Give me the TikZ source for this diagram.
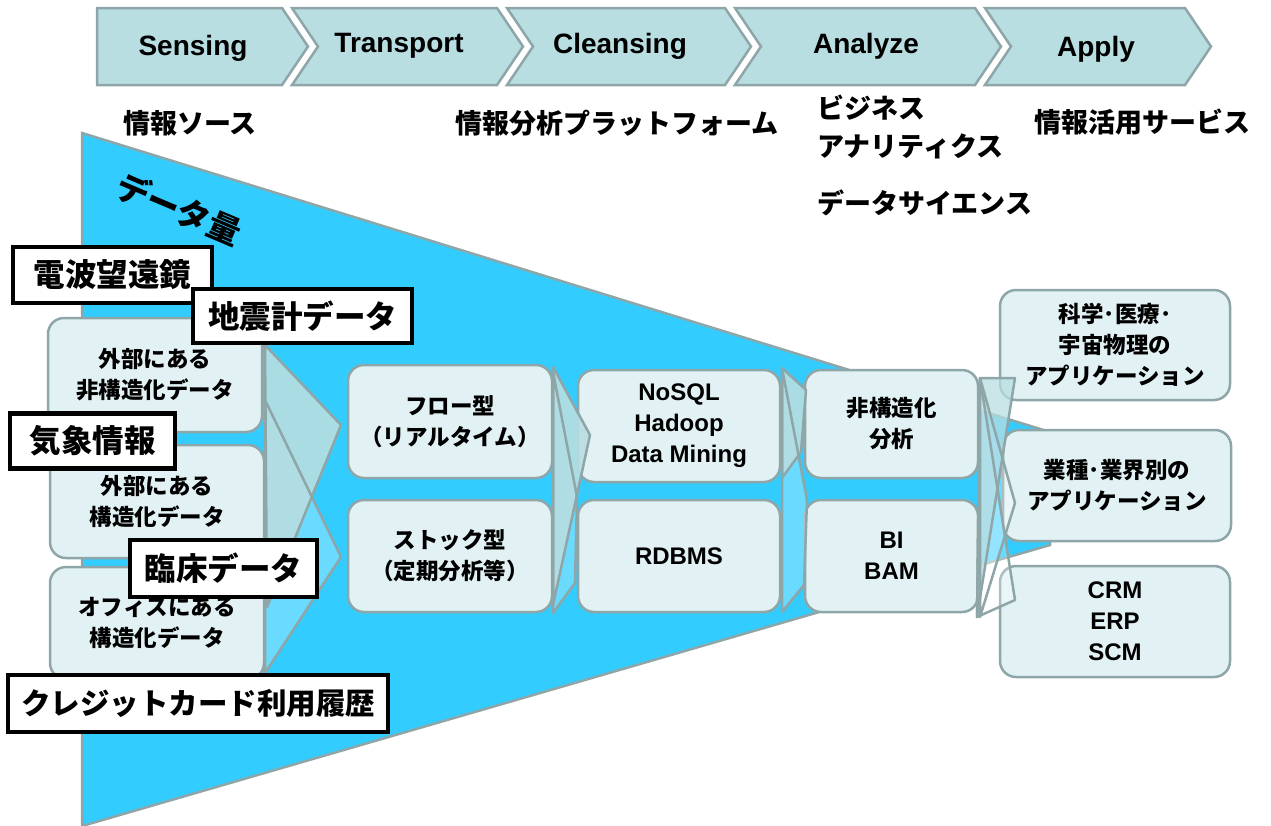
\documentclass[tikz,border=0pt]{standalone}
\usepackage{fontspec}
\setmainfont{Liberation Sans}
\newfontfamily\jp{Noto Sans CJK JP}
\usetikzlibrary{calc}
\definecolor{funnelc}{HTML}{33CCFF}
\definecolor{chevfill}{HTML}{B8DEE2}
\definecolor{boxfill}{HTML}{E2F2F4}
\definecolor{edgegray}{HTML}{8FA6A9}
\tikzset{
 chev/.style={fill=chevfill, draw=edgegray, line width=2.5pt, line join=miter},
 chevtext/.style={font=\bfseries\fontsize{28}{28}\selectfont, inner sep=0pt},
 hdr/.style={font=\jp\bfseries\fontsize{27}{38}\selectfont, anchor=west, inner sep=0pt},
 rbox/.style={fill=boxfill, draw=edgegray, line width=2.5pt, rounded corners=16pt, align=center, inner sep=0pt},
 jtxt/.style={font=\jp\bfseries\fontsize{22.5}{31}\selectfont},
 ltxt/.style={font=\bfseries\fontsize{24}{31}\selectfont},
 lbl/.style={fill=white, draw=black, line width=4.5pt, inner sep=0pt, font=\jp\bfseries\fontsize{31.5}{31.5}\selectfont},
 arrA/.style={fill=chevfill, fill opacity=0.9, draw=edgegray, line width=2.5pt, line join=round},
 arrBfill/.style={fill=white, fill opacity=0.28},
 edge/.style={draw=edgegray, line width=2.5pt, line join=round},
}
\begin{document}
\begin{tikzpicture}[x=1pt,y=-1pt]
\useasboundingbox (0,0) rectangle (1271,825);
% top chevrons
\draw[chev] (97,8) -- (282,8) -- (308,46.5) -- (282,85) -- (97,85) -- cycle;
\draw[chev] (292,8) -- (497,8) -- (523,46.5) -- (497,85) -- (292,85) -- (318,46.5) -- cycle;
\draw[chev] (507,8) -- (725,8) -- (751,46.5) -- (725,85) -- (507,85) -- (533,46.5) -- cycle;
\draw[chev] (735,8) -- (975,8) -- (1001,46.5) -- (975,85) -- (735,85) -- (761,46.5) -- cycle;
\draw[chev] (985,8) -- (1185,8) -- (1211,46.5) -- (1185,85) -- (985,85) -- (1011,46.5) -- cycle;
\node[chevtext] (c1) at (193,48) {Sensing};
\node[chevtext] (c2) at (399,46) {Transport};
\node[chevtext] (c3) at (620,46) {Cleansing};
\node[chevtext] (c4) at (866,46) {Analyze};
\node[chevtext] (c5) at (1096,49) {Apply};
% headers
\node[hdr] (h1) at (123,123) {情報ソース};
\node[hdr] (h2) at (455,123) {情報分析プラットフォーム};
\node[hdr] (h3) at (817,108) {ビジネス};
\node[hdr] (h4) at (817,146) {アナリティクス};
\node[hdr] (h5) at (817,203) {データサイエンス};
\node[hdr] (h6) at (1034,122) {情報活用サービス};
% funnel
\draw[fill=funnelc, draw=edgegray, line width=2.5pt] (82,133) -- (1050,432) -- (1050,545) -- (82,826) -- cycle;
\node[font=\jp\bfseries\fontsize{33}{33}\selectfont, rotate=-23, inner sep=0pt] (vol) at (179,209) {データ量};
% source boxes
\node[rbox, jtxt, minimum width=214pt, minimum height=114pt] (s1) at (155,375) {外部にある\\非構造化データ};
\node[rbox, jtxt, minimum width=214pt, minimum height=113pt] (s2) at (157,501.5) {外部にある\\構造化データ};
\node[rbox, jtxt, minimum width=214pt, minimum height=112pt] (s3) at (157,623) {オフィスにある\\構造化データ};
% column 2
\node[rbox, jtxt, minimum width=204pt, minimum height=113pt] (f1) at (450,421.5) {フロー型\\（リアルタイム）};
\node[rbox, jtxt, minimum width=204pt, minimum height=112pt] (f2) at (450,556) {ストック型\\（定期分析等）};
% column 3
\node[rbox, ltxt, minimum width=202pt, minimum height=112pt] (d1) at (679,426) {NoSQL\\Hadoop\\Data Mining};
\node[rbox, ltxt, minimum width=202pt, minimum height=112pt] (d2) at (679,556) {RDBMS};
% column 4
\node[rbox, jtxt, minimum width=173pt, minimum height=108pt] (a1) at (891.5,424) {非構造化\\分析};
\node[rbox, ltxt, minimum width=173pt, minimum height=112pt] (a2) at (891.5,556) {BI\\BAM};
% column 5
\node[rbox, jtxt, minimum width=230pt, minimum height=110pt] (p1) at (1115,345) {科学･医療･\\宇宙物理の\\アプリケーション};
\node[rbox, jtxt, minimum width=228pt, minimum height=111pt] (p2) at (1117,485.5) {業種･業界別の\\アプリケーション};
\node[rbox, ltxt, minimum width=230pt, minimum height=111pt] (p3) at (1115,621.5) {CRM\\ERP\\SCM};
% transition 1
\fill[arrBfill] (265,400) -- (341,557) -- (265,673) -- cycle;
\draw[arrA] (265,345) -- (341,425) -- (267,607) -- cycle;
\draw[edge] (265,400) -- (341,557) -- (265,673) -- cycle;
% transition 2
\fill[arrBfill] (553,372) -- (577,497) -- (575,583) -- (553,613) -- cycle;
\draw[arrA] (553,367) -- (590,435) -- (553,605) -- cycle;
\draw[edge] (553,372) -- (577,497) -- (575,583) -- (553,613) -- cycle;
% transition 3
\fill[arrBfill] (782,368) -- (807,500) -- (804,585) -- (782,612) -- cycle;
\draw[arrA] (782,368) -- (806,390) -- (801,452) -- (782,478) -- cycle;
\draw[edge] (782,368) -- (807,500) -- (804,585) -- (782,612) -- cycle;
% transition 4
\fill[arrBfill] (980,378) -- (1015,503) -- (980,617) -- cycle;
\fill[arrBfill] (980,378) -- (1015,600) -- (977,617) -- cycle;
\draw[arrA, fill opacity=0.75] (980,378) -- (1015,378) -- (977,617) -- cycle;
\draw[edge] (980,378) -- (1015,503) -- (980,617) -- cycle;
\draw[edge] (980,378) -- (1015,600) -- (977,617) -- cycle;
% labels
\node[lbl, minimum width=199pt, minimum height=56pt] (l1) at (112.5,275) {電波望遠鏡};
\node[lbl, minimum width=219pt, minimum height=54pt] (l2) at (302.5,316) {地震計データ};
\node[lbl, minimum width=165pt, minimum height=55pt] (l3) at (92.5,441) {気象情報};
\node[lbl, minimum width=187pt, minimum height=57pt] (l4) at (223.5,568.5) {臨床データ};
\node[lbl, minimum width=380pt, minimum height=57pt, font=\jp\bfseries\fontsize{29.5}{29.5}\selectfont] (l5) at (198,703.5) {クレジットカード利用履歴};
\end{tikzpicture}
\end{document}
